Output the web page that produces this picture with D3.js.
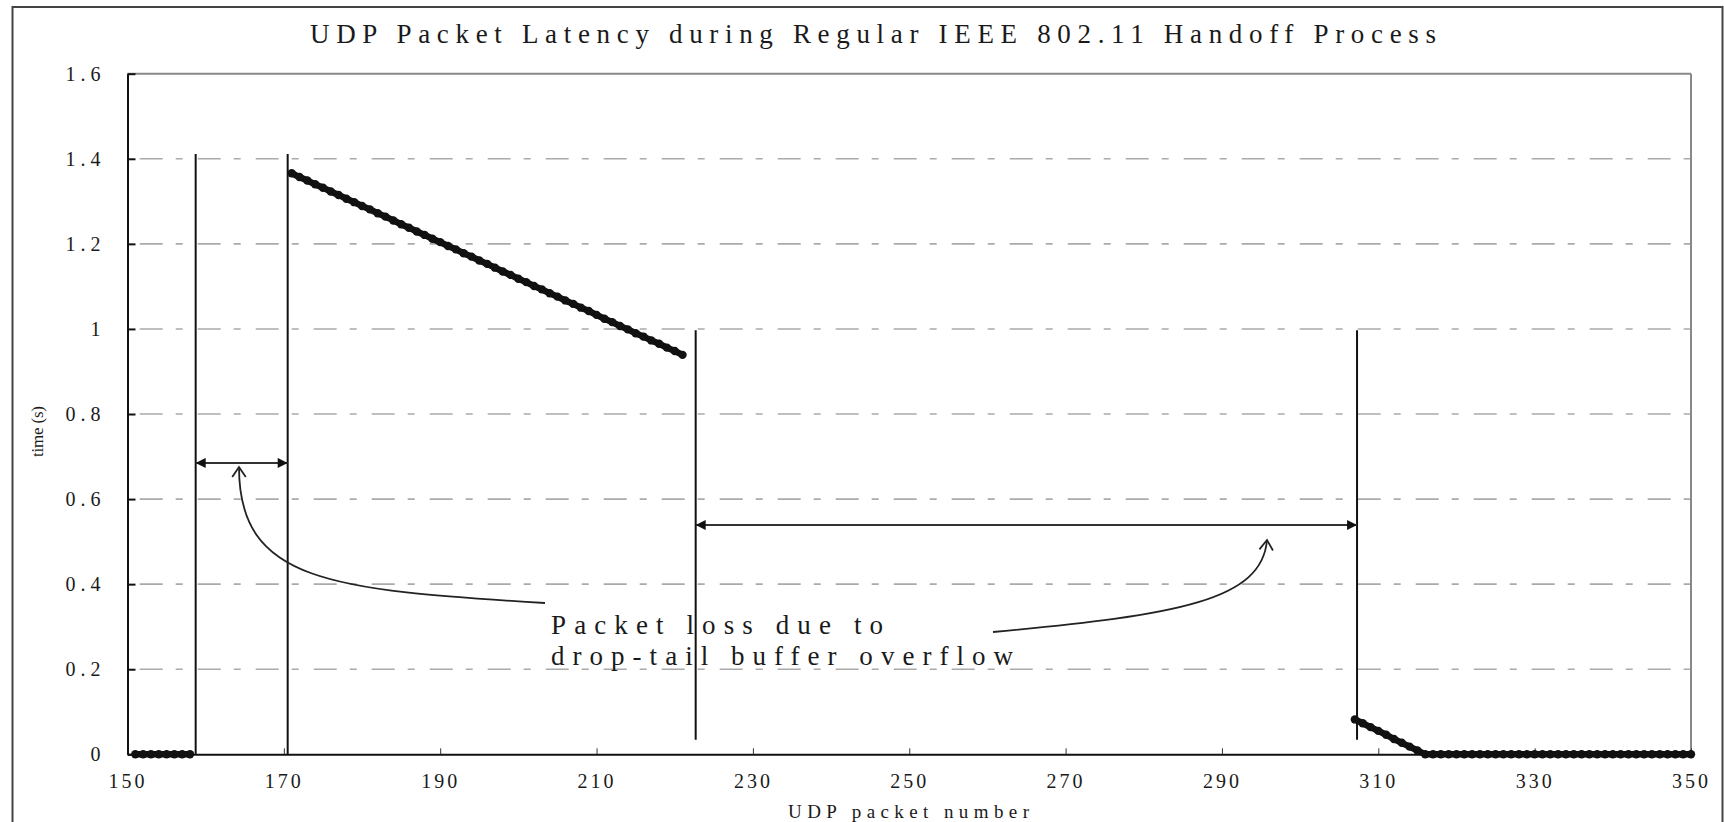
<!DOCTYPE html>
<html><head><meta charset="utf-8">
<script src="https://cdn.jsdelivr.net/npm/d3@7"></script>
<style>
html,body{margin:0;padding:0;background:#fff;}
svg{display:block;}
text{font-family:"Liberation Serif","DejaVu Serif",serif;fill:#1a1a1a;}
</style></head>
<body>
<svg id="chart" width="1724" height="822"></svg>
<script>
// ---- data ----
const titleText = "UDP Packet Latency during Regular IEEE 802.11 Handoff Process";
const xLabel = "UDP packet number";
const yLabel = "time (s)";
const noteLines = ["Packet loss due to", "drop-tail buffer overflow"];
const xTicks = [150,170,190,210,230,250,270,290,310,330,350];
const yTicks = [0,0.2,0.4,0.6,0.8,1,1.2,1.4,1.6];

// series: first packet number + latency values (s) of consecutive packets
const seg1Start = 151;
const seg1Values = [0,0,0,0,0,0,0,0];
const seg2Start = 171;
const seg2Values = [1.366,1.357,1.349,1.340,1.332,1.323,1.315,1.306,1.298,1.289,
  1.281,1.272,1.264,1.255,1.246,1.238,1.229,1.221,1.212,1.204,
  1.195,1.187,1.178,1.170,1.161,1.153,1.144,1.135,1.127,1.118,
  1.110,1.101,1.093,1.084,1.076,1.067,1.059,1.050,1.042,1.033,
  1.024,1.016,1.007,0.999,0.990,0.982,0.973,0.965,0.956,0.948,0.939];
const seg3Start = 307;
const seg3Values = [0.082,0.073,0.064,0.055,0.046,0.036,0.027,0.018,0.009,0,
  0,0,0,0,0,0,0,0,0,0,0,0,0,0,0,0,0,0,0,0,0,0,0,0,0,0,0,0,0,0,0,0,0,0];

// annotation markers (packet number, time)
const markerLines = [
  {x:158.72, y0:0, y1:1.411},
  {x:170.49, y0:0, y1:1.411},
  {x:222.68, y0:0.034, y1:0.997},
  {x:307.28, y0:0.034, y1:0.997}
];
const spanArrows = [
  {x0:158.72, x1:170.49, y:0.685},
  {x0:222.68, x1:307.28, y:0.539}
];

// ---- layout ----
const svg = d3.select("#chart");
const L = 127.5, R = 1691, T = 73.7, B = 754.3;
const x = d3.scaleLinear().domain([150,350]).range([L,R]);
const y = d3.scaleLinear().domain([0,1.6]).range([B,T]);

// outer frame
svg.append("rect").attr("x",12.5).attr("y",7).attr("width",1710).attr("height",830)
  .attr("fill","none").attr("stroke","#444").attr("stroke-width",2);

// grid
const grid = svg.append("g");
grid.selectAll("line").data(yTicks.filter(d=>d>0 && d<1.6)).join("line")
  .attr("x1",L).attr("x2",R).attr("y1",d=>y(d)).attr("y2",d=>y(d))
  .attr("stroke","#aaa").attr("stroke-width",1.6)
  .attr("stroke-dasharray","23,13,7,15").attr("stroke-dashoffset",45.8);

// top/right border
svg.append("line").attr("x1",L).attr("x2",R).attr("y1",T).attr("y2",T).attr("stroke","#888").attr("stroke-width",2);
svg.append("line").attr("x1",R).attr("x2",R).attr("y1",T).attr("y2",B).attr("stroke","#888").attr("stroke-width",2);

// axes
const xAxis = d3.axisBottom(x).tickValues(xTicks).tickSize(0).tickPadding(20).tickFormat(d3.format("d"));
const gx = svg.append("g").attr("transform",`translate(0,${B})`).call(xAxis);
gx.select(".domain").attr("stroke","#111").attr("stroke-width",2);
gx.selectAll("text").attr("font-size",20).attr("letter-spacing","3px").attr("fill","#1a1a1a")
  .attr("font-family","Liberation Serif");
gx.selectAll(".tick").append("line").attr("y1",0).attr("y2",-6).attr("stroke","#333").attr("stroke-width",1);

const yAxis = d3.axisLeft(y).tickValues(yTicks).tickSize(0).tickPadding(22).tickFormat(d=>d3.format("")(d));
const gy = svg.append("g").attr("transform",`translate(${L},0)`).call(yAxis);
gy.select(".domain").attr("stroke","#111").attr("stroke-width",2);
gy.selectAll("text").attr("font-size",20).attr("letter-spacing","5px").attr("fill","#1a1a1a")
  .attr("font-family","Liberation Serif");
gy.selectAll(".tick").append("line").attr("x1",0).attr("x2",8).attr("stroke","#111").attr("stroke-width",2);

// title & labels
svg.append("text").attr("x",310).attr("y",43).attr("font-size",27)
  .attr("textLength",1126).attr("lengthAdjust","spacing").text(titleText);
svg.append("text").attr("x",788).attr("y",818).attr("font-size",19)
  .attr("textLength",241).attr("lengthAdjust","spacing").text(xLabel);
svg.append("text").attr("transform","translate(43,457) rotate(-90)").attr("font-size",17)
  .attr("textLength",51).attr("lengthAdjust","spacing").text(yLabel);

// marker vertical lines
svg.append("g").selectAll("line").data(markerLines).join("line")
  .attr("x1",d=>x(d.x)).attr("x2",d=>x(d.x)).attr("y1",d=>y(d.y0)).attr("y2",d=>y(d.y1))
  .attr("stroke","#111").attr("stroke-width",2);

// arrow markers
const defs = svg.append("defs");
defs.append("marker").attr("id","tri").attr("viewBox","0 0 10 10").attr("refX",10).attr("refY",5)
  .attr("markerUnits","userSpaceOnUse").attr("markerWidth",14).attr("markerHeight",10).attr("orient","auto-start-reverse")
  .append("path").attr("d","M0,0 L10,5 L0,10 Z").attr("fill","#111");

svg.append("g").selectAll("line").data(spanArrows).join("line")
  .attr("x1",d=>x(d.x0)).attr("x2",d=>x(d.x1)).attr("y1",d=>y(d.y)).attr("y2",d=>y(d.y))
  .attr("stroke","#333").attr("stroke-width",2)
  .attr("marker-start","url(#tri)").attr("marker-end","url(#tri)");

// data series
function pts(start, vals){ return vals.map((v,i)=>({p:start+i, v})); }
const series = [pts(seg1Start,seg1Values), pts(seg2Start,seg2Values), pts(seg3Start,seg3Values)];
const line = d3.line().x(d=>x(d.p)).y(d=>y(d.v));
const sg = svg.append("g");
series.forEach(s=>{
  sg.append("path").attr("d",line(s)).attr("fill","none").attr("stroke","#111").attr("stroke-width",6.5);
  sg.append("g").selectAll("circle").data(s).join("circle")
    .attr("cx",d=>x(d.p)).attr("cy",d=>y(d.v)).attr("r",4.2).attr("fill","#111");
});

// annotation text
svg.append("text").attr("x",551).attr("y",634).attr("font-size",27)
  .attr("textLength",332).attr("lengthAdjust","spacing").text(noteLines[0]);
svg.append("text").attr("x",551).attr("y",665).attr("font-size",27)
  .attr("textLength",462).attr("lengthAdjust","spacing").text(noteLines[1]);

// curved arrows
function curveArrow(p0,p1,p2,p3){
  const path = d3.path();
  path.moveTo(p0[0],p0[1]); path.bezierCurveTo(p1[0],p1[1],p2[0],p2[1],p3[0],p3[1]);
  svg.append("path").attr("d",path.toString()).attr("fill","none").attr("stroke","#222").attr("stroke-width",1.8);
  const ang = Math.atan2(p3[1]-p2[1], p3[0]-p2[0]);
  const len = 12, spread = 0.6;
  const a1 = [p3[0]-len*Math.cos(ang-spread), p3[1]-len*Math.sin(ang-spread)];
  const a2 = [p3[0]-len*Math.cos(ang+spread), p3[1]-len*Math.sin(ang+spread)];
  svg.append("path").attr("d",`M${a1[0]},${a1[1]} L${p3[0]},${p3[1]} L${a2[0]},${a2[1]}`)
    .attr("fill","none").attr("stroke","#222").attr("stroke-width",1.8);
}
curveArrow([545,603],[330,590],[239,582],[239,467]);
curveArrow([993,632],[1180,615],[1262,600],[1267,540]);
</script>
</body></html>
